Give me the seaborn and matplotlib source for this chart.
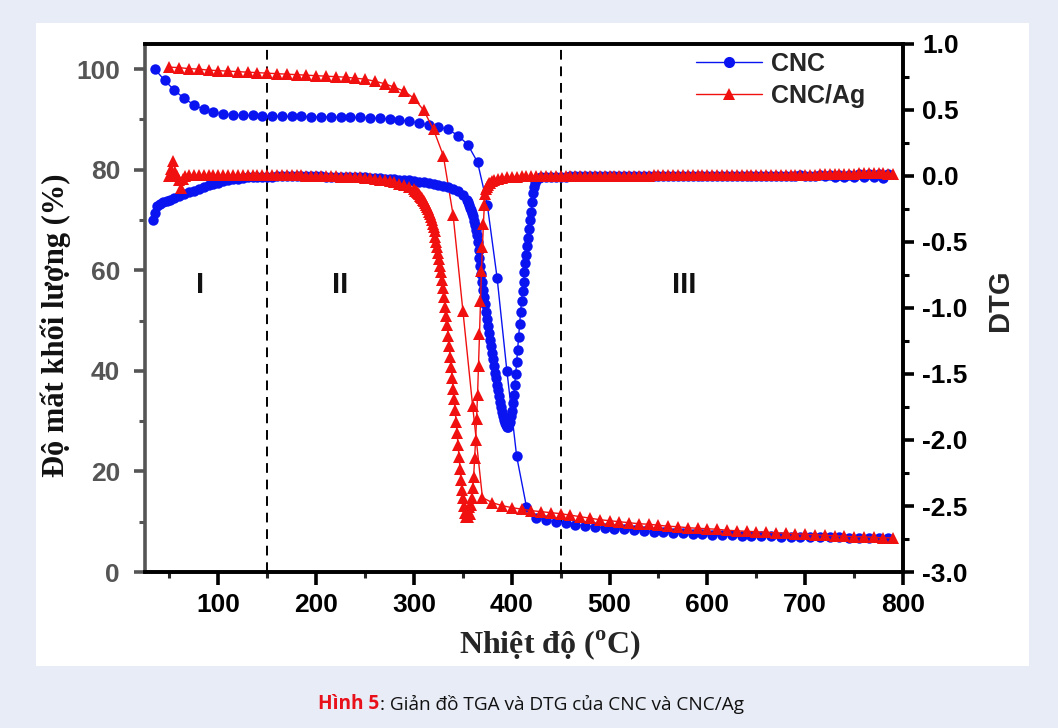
import numpy as np
import pandas as pd
import matplotlib
matplotlib.use("Agg")
import matplotlib.pyplot as plt
import seaborn as sns
from matplotlib.patches import Rectangle
from matplotlib.ticker import MultipleLocator
from matplotlib.lines import Line2D

# ---------------- data ----------------
tga_cnc_T = [35, 45, 55, 65, 75, 85, 95, 105, 115, 125, 135, 145, 155, 165, 175, 185, 195, 205, 215, 225,
             235, 245, 255, 265, 275, 285, 295, 305, 315, 325, 335, 345, 355, 365, 375, 385, 395, 405, 415, 425,
             435, 445, 455, 465, 475, 485, 495, 505, 515, 525, 535, 545, 555, 565, 575, 585, 595, 605, 615, 625,
             635, 645, 655, 665, 675, 685, 695, 705, 715, 725, 735, 745, 755, 765, 775, 785]
tga_cnc_V = [100.0, 97.8, 95.8, 94.2, 92.9, 92.0, 91.4, 91.1, 90.9, 90.8, 90.8, 90.7, 90.7, 90.6, 90.6, 90.6, 90.5, 90.5, 90.5, 90.4,
             90.4, 90.4, 90.3, 90.2, 90.1, 89.9, 89.6, 89.3, 88.9, 88.5, 88.0, 86.8, 85.0, 81.5, 73.0, 58.5, 40.0, 23.0, 13.0, 10.8,
             10.3, 10.0, 9.7, 9.4, 9.2, 9.0, 8.8, 8.6, 8.5, 8.3, 8.2, 8.0, 7.9, 7.8, 7.7, 7.6, 7.5, 7.4, 7.3, 7.3,
             7.2, 7.2, 7.1, 7.1, 7.0, 7.0, 7.0, 6.9, 6.9, 6.9, 6.9, 6.8, 6.8, 6.8, 6.8, 6.8]

tga_ag_T = [50, 60, 70, 80, 90, 100, 110, 120, 130, 140, 150, 160, 170, 180, 190, 200, 210, 220, 230, 240,
            250, 260, 270, 280, 290, 300, 310, 320, 330, 340, 350, 360, 370, 380, 390, 400, 410, 420, 430, 440,
            450, 460, 470, 480, 490, 500, 510, 520, 530, 540, 550, 560, 570, 580, 590, 600, 610, 620, 630, 640,
            650, 660, 670, 680, 690, 700, 710, 720, 730, 740, 750, 760, 770, 780, 790]
tga_ag_V = [100.4, 100.3, 100.1, 100.0, 99.8, 99.7, 99.6, 99.5, 99.4, 99.3, 99.2, 99.1, 99.0, 98.9, 98.8, 98.7, 98.6, 98.5, 98.4, 98.2,
            98.0, 97.6, 97.1, 96.4, 95.6, 94.2, 91.8, 88.0, 82.8, 71.0, 52.0, 33.0, 14.8, 13.8, 13.2, 12.8, 12.5, 12.2, 12.0, 11.8,
            11.6, 11.3, 11.0, 10.7, 10.4, 10.2, 10.0, 9.8, 9.6, 9.5, 9.3, 9.1, 9.0, 8.8, 8.7, 8.6, 8.5, 8.3, 8.2, 8.1,
            8.0, 7.9, 7.8, 7.7, 7.6, 7.5, 7.4, 7.3, 7.2, 7.1, 7.0, 7.0, 6.9, 6.8, 6.8]

dtg_cnc_T = [33, 35, 37, 40, 43, 47, 51, 55, 60, 65, 70, 75, 80, 85, 90, 95, 100, 105, 110, 115,
             120, 125, 130, 135, 140, 145, 150, 155, 160, 165, 170, 175, 180, 185, 190, 195, 200, 205, 210, 215,
             220, 225, 230, 235, 240, 245, 250, 255, 260, 265, 270, 275, 280, 285, 290, 295, 300, 305, 310, 315,
             320, 325, 330, 335, 340, 345, 350,
             354, 355, 356, 357, 358, 359, 360, 361, 362, 363, 364, 365, 366, 367, 368, 369, 370, 371, 372, 373,
             374, 375, 376, 377, 378, 379, 380, 381, 382, 383, 384, 385, 386, 387, 388, 389, 390, 391, 392, 393,
             394, 395, 396, 397, 398, 399, 400, 401, 402, 403, 404, 405, 406, 407, 408, 409, 410, 411, 412, 413,
             414, 415, 416, 417, 418, 419, 420, 421, 422, 423, 424, 425, 426, 428, 430,
             435, 440, 445, 450, 455, 460, 465, 470, 475, 480, 485, 490, 495, 500, 505, 510,
             515, 520, 525, 530, 535, 540, 545, 550, 555, 560, 565, 570, 575, 580, 585, 590, 595, 600, 605, 610,
             615, 620, 625, 630, 635, 640, 645, 650, 655, 660, 665, 670, 675, 680, 685, 690, 695, 700, 705, 710,
             715, 720, 725, 730, 735, 740, 745, 750, 755, 760, 765, 770, 775, 780, 785]
dtg_cnc_V = [-0.33, -0.28, -0.23, -0.21, -0.20, -0.19, -0.18, -0.17, -0.15, -0.14, -0.12, -0.11, -0.10, -0.08, -0.07, -0.06, -0.05, -0.04, -0.03, -0.025,
             -0.02, -0.015, -0.01, -0.008, -0.006, -0.005, -0.004, -0.004, -0.003, -0.003, -0.003, -0.002, -0.002, -0.002, -0.002, -0.003, -0.003, -0.003, -0.004, -0.004,
             -0.005, -0.005, -0.006, -0.007, -0.008, -0.009, -0.010, -0.012, -0.014, -0.016, -0.019, -0.022, -0.025, -0.028, -0.031, -0.034, -0.037, -0.042, -0.047, -0.052,
             -0.058, -0.065, -0.072, -0.082, -0.095, -0.115, -0.145,
             -0.18, -0.20, -0.22, -0.24, -0.26, -0.28, -0.30, -0.34, -0.37, -0.41, -0.45, -0.50, -0.56, -0.62, -0.68, -0.74, -0.80, -0.86, -0.92, -0.97,
             -1.03, -1.08, -1.14, -1.19, -1.24, -1.29, -1.34, -1.39, -1.44, -1.49, -1.53, -1.58, -1.62, -1.67, -1.71, -1.75, -1.79, -1.82, -1.85, -1.87,
             -1.89, -1.90, -1.90, -1.88, -1.86, -1.82, -1.78, -1.72, -1.66, -1.58, -1.50, -1.41, -1.32, -1.22, -1.12, -1.03, -0.95, -0.87, -0.80, -0.73,
             -0.66, -0.60, -0.53, -0.47, -0.40, -0.33, -0.27, -0.20, -0.13, -0.08, -0.05, -0.03, -0.02, -0.015, -0.01,
             -0.008, -0.006, -0.005, -0.004, -0.004, -0.003, -0.003, -0.002, -0.002, -0.002, -0.001, -0.001, -0.001, 0.0, 0.0, 0.0,
             0.0, 0.0, 0.0, 0.001, 0.0, 0.0, 0.001, 0.0, 0.0, 0.001, 0.0, 0.0, 0.001, 0.0, 0.0, 0.001, 0.0, 0.0, 0.001, 0.0,
             0.0, 0.002, 0.0, 0.0, 0.002, 0.0, 0.001, 0.0, 0.002, 0.0, 0.001, 0.0, 0.003, 0.0, 0.002, 0.0, 0.004, 0.0, 0.003, 0.0,
             0.005, 0.0, 0.006, -0.004, 0.008, -0.005, 0.010, -0.006, 0.012, -0.008, 0.014, -0.010, 0.015, -0.012, 0.012]

dtg_ag_T = [50, 52, 54, 56, 58, 60, 62, 64, 66, 70, 75, 80, 85, 90, 95, 100, 105, 110, 115, 120,
            125, 130, 135, 140, 145, 150, 155, 160, 165, 170, 175, 180, 185, 190, 195, 200, 205, 210, 215, 220,
            225, 230, 235, 240, 245, 250, 255, 260, 265, 270, 275, 280, 285, 290, 295,
            300, 301, 302, 303, 304, 305, 306, 307, 308, 309, 310, 311, 312, 313, 314, 315, 316, 317, 318, 319,
            320, 321, 322, 323, 324, 325, 326, 327, 328, 329, 330, 331, 332, 333, 334, 335, 336, 337, 338, 339,
            340, 341, 342, 343, 344, 345, 346, 347, 348, 349, 350, 351, 352, 353, 354, 355, 356, 357, 358, 359,
            360, 361, 362, 363, 364, 365, 366, 367, 368, 369, 370, 371, 372, 373, 374, 375, 376, 377, 378, 380,
            382, 386, 390, 395, 400, 405, 410, 415, 420, 425, 430, 435, 440, 445, 450, 455, 460, 465,
            470, 475, 480, 485, 490, 495, 500, 505, 510, 515, 520, 525, 530, 535, 540, 545, 550, 555, 560, 565,
            570, 575, 580, 585, 590, 595, 600, 605, 610, 615, 620, 625, 630, 635, 640, 645, 650, 655, 660, 665,
            670, 675, 680, 685, 690, 695, 700, 705, 710, 715, 720, 725, 730, 735, 740, 745, 750, 755, 760, 765,
            770, 775, 780, 785, 790]
dtg_ag_V = [0.0, 0.05, 0.11, 0.03, 0.0, -0.03, -0.09, -0.02, 0.0, 0.005, 0.005, 0.006, 0.006, 0.006, 0.007, 0.007, 0.007, 0.007, 0.007, 0.007,
            0.007, 0.007, 0.007, 0.007, 0.006, 0.006, 0.006, 0.006, 0.005, 0.005, 0.005, 0.004, 0.004, 0.003, 0.002, 0.001, 0.0, -0.001, -0.002, -0.003,
            -0.004, -0.005, -0.007, -0.009, -0.011, -0.014, -0.018, -0.022, -0.027, -0.033, -0.040, -0.048, -0.058, -0.070, -0.085,
            -0.10, -0.11, -0.115, -0.12, -0.13, -0.14, -0.15, -0.16, -0.17, -0.18, -0.19, -0.205, -0.22, -0.235, -0.25, -0.27, -0.29, -0.31, -0.33, -0.36,
            -0.39, -0.42, -0.46, -0.50, -0.54, -0.58, -0.63, -0.68, -0.73, -0.79, -0.85, -0.92, -0.99, -1.06, -1.13, -1.21, -1.29, -1.37, -1.45, -1.53,
            -1.61, -1.69, -1.77, -1.86, -1.95, -2.04, -2.13, -2.22, -2.30, -2.38, -2.44, -2.50, -2.55, -2.58, -2.53, -2.58, -2.51, -2.56, -2.49, -2.44,
            -2.36, -2.28, -2.14, -2.00, -1.84, -1.66, -1.44, -1.20, -0.95, -0.72, -0.54, -0.36, -0.22, -0.14, -0.10, -0.08, -0.065, -0.055, -0.05, -0.04,
            -0.03, -0.02, -0.012, -0.008, -0.006, -0.004, -0.003, -0.002, -0.002, -0.001, -0.001, 0.0, 0.0, 0.0, 0.0, 0.001, 0.001, 0.001,
            0.001, 0.001, 0.002, 0.002, 0.002, 0.002, 0.002, 0.003, 0.003, 0.003, 0.003, 0.003, 0.003, 0.003, 0.003, 0.004, 0.004, 0.004, 0.004, 0.004,
            0.004, 0.004, 0.004, 0.004, 0.004, 0.004, 0.005, 0.005, 0.005, 0.005, 0.005, 0.005, 0.005, 0.005, 0.006, 0.006, 0.006, 0.006, 0.007, 0.007,
            0.007, 0.008, 0.008, 0.009, 0.009, 0.010, 0.010, 0.011, 0.011, 0.012, 0.012, 0.013, 0.014, 0.015, 0.016, 0.017, 0.018, 0.019, 0.020, 0.021,
            0.022, 0.020, 0.024, 0.018, 0.015]

series_names = ["CNC", "CNC/Ag"]
region_labels = ["I", "II", "III"]
region_T = [81, 224, 576]
boundaries = [150, 450]

x_ticks = [100, 200, 300, 400, 500, 600, 700, 800]
left_ticks = [0, 20, 40, 60, 80, 100]
right_ticks = [1.0, 0.5, 0.0, -0.5, -1.0, -1.5, -2.0, -2.5, -3.0]

# ---------------- style ----------------
sns.set_style("ticks")
plt.rcParams["font.family"] = ["Liberation Sans", "DejaVu Sans"]
plt.rcParams["mathtext.fontset"] = "custom"
plt.rcParams["mathtext.rm"] = "Liberation Serif"
plt.rcParams["mathtext.bf"] = "Liberation Serif:bold"

BLUE = "#0a14f0"
RED = "#f01010"
GRAY = "#555555"

W, H = 1058, 728
AX_L, AX_R, AX_T, AX_B = 145, 903, 44, 572
fig = plt.figure(figsize=(W / 100, H / 100), dpi=100)
fig.patch.set_facecolor("#e8ecf6")
fig.patches.append(Rectangle((36 / W, 1 - 666 / H), (1029 - 36) / W, (666 - 23) / H,
                             transform=fig.transFigure, facecolor="white", edgecolor="none", zorder=-10))

ax = fig.add_axes([AX_L / W, 1 - AX_B / H, (AX_R - AX_L) / W, (AX_B - AX_T) / H])
ax.set_facecolor("white")
ax2 = ax.twinx()

mk = dict(markeredgewidth=0, linewidth=1.0, legend=False, sort=False, estimator=None)
sns.lineplot(x=tga_cnc_T, y=tga_cnc_V, ax=ax, color=BLUE, marker="o", markersize=7.5, **mk)
sns.lineplot(x=tga_ag_T, y=tga_ag_V, ax=ax, color=RED, marker="^", markersize=8.5, **mk)
sns.lineplot(x=dtg_cnc_T, y=dtg_cnc_V, ax=ax2, color=BLUE, marker="o", markersize=7.5, **mk)
sns.lineplot(x=dtg_ag_T, y=dtg_ag_V, ax=ax2, color=RED, marker="^", markersize=8.5, **mk)

for b in boundaries:
    ax.axvline(b, color="black", lw=1.4, ls=(0, (5, 3.5)), zorder=1)

for lab, t in zip(region_labels, region_T):
    ax.text(t, 57, lab, ha="center", va="center", fontsize=21, fontweight="bold", color="#111111")

ax.set_xlim(25, 800)
ax.set_ylim(0, 105)
ax2.set_ylim(-3.0, 1.0)

ax.set_xticks(x_ticks)
ax.xaxis.set_minor_locator(MultipleLocator(50))
ax.set_yticks(left_ticks)
ax.yaxis.set_minor_locator(MultipleLocator(10))
ax2.set_yticks(right_ticks)
ax2.yaxis.set_minor_locator(MultipleLocator(0.25))

tick_font = dict(fontsize=19, fontweight="bold")
ax.set_xticklabels([str(v) for v in x_ticks], **tick_font)
ax.set_yticklabels([str(v) for v in left_ticks], color=GRAY, **tick_font)
ax2.set_yticklabels([f"{v:.1f}" for v in right_ticks], **tick_font)

for a in (ax, ax2):
    for s in a.spines.values():
        s.set_linewidth(2.6)
        s.set_color("black")
ax.spines["left"].set_color(GRAY)
ax2.spines["left"].set_visible(False)

ax.tick_params(axis="x", which="major", direction="out", length=9, width=2.6, pad=6, colors="black")
ax.tick_params(axis="x", which="minor", direction="out", length=4, width=2.2)
ax.tick_params(axis="y", which="major", direction="out", length=8, width=2.6, pad=10, colors=GRAY)
ax.tick_params(axis="y", which="minor", direction="out", length=4, width=2.2, colors=GRAY)
ax2.tick_params(axis="y", which="major", direction="out", length=8, width=2.6, pad=6, colors="black")
ax2.tick_params(axis="y", which="minor", direction="out", length=4, width=2.2, colors="black")

ax.set_xlabel(r"Nhiệt độ ($^{\mathbf{o}}$C)", fontsize=23, fontweight="bold",
              family=["Liberation Serif", "DejaVu Serif"], va="center")
ax.xaxis.set_label_coords((550 - AX_L) / (AX_R - AX_L), (AX_B - 645) / (AX_B - AX_T))
ax.set_ylabel("Độ mất khối lượng (%)", fontsize=22, fontweight="bold",
              family=["Liberation Serif", "DejaVu Serif"], color="#111111", va="center")
ax.yaxis.set_label_coords((56 - AX_L) / (AX_R - AX_L), (AX_B - 325) / (AX_B - AX_T))
ax2.set_ylabel("DTG", fontsize=21, fontweight="bold", va="center")
ax2.yaxis.set_label_coords((1000 - AX_L) / (AX_R - AX_L), (AX_B - 300) / (AX_B - AX_T))

handles = [Line2D([], [], color=BLUE, marker="o", markersize=8, markeredgewidth=0, lw=1.0),
           Line2D([], [], color=RED, marker="^", markersize=8.5, markeredgewidth=0, lw=1.0)]
leg = ax2.legend(handles, series_names, loc="upper left",
                 bbox_to_anchor=((675 - AX_L) / (AX_R - AX_L), 1.0 + 13 / (AX_B - AX_T)),
                 frameon=False, handlelength=2.65, handletextpad=0.35, labelspacing=0.3,
                 borderpad=0.35, prop=dict(size=18, weight="bold"))

# caption
cap_y = 1 - 704 / H
t1 = fig.text(0, cap_y, "Hình 5", color="#e8101a", fontsize=13.7, fontweight="bold",
              family="Open Sans", va="center", ha="left")
t2 = fig.text(0, cap_y, ": Giản đồ TGA và DTG của CNC và CNC/Ag", color="#111111", fontsize=13.7,
              family="Open Sans", va="center", ha="left")
fig.canvas.draw()
r = fig.canvas.get_renderer()
w1 = t1.get_window_extent(r).width
w2 = t2.get_window_extent(r).width
x0 = 531 - (w1 + w2) / 2
t1.set_x(x0 / W)
t2.set_x((x0 + w1) / W)

fig.savefig("out.png", dpi=100, facecolor=fig.get_facecolor())
